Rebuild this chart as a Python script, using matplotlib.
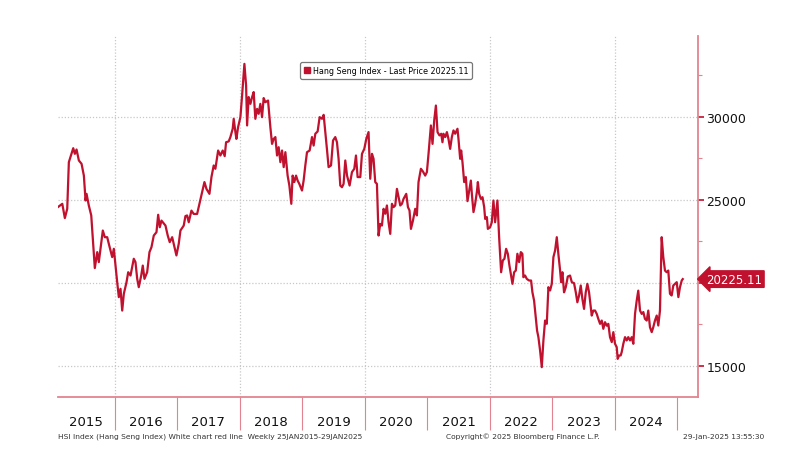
import numpy as np
import matplotlib
matplotlib.use("Agg")
import matplotlib.pyplot as plt
from matplotlib.patches import Patch
from matplotlib.ticker import FixedLocator, NullFormatter

# weekly Hang Seng closes (decimal year, index level)
years = [
    2015.094, 2015.165, 2015.206, 2015.244, 2015.270, 2015.340, 2015.366, 2015.393, 2015.430, 2015.473,
    2015.510, 2015.537, 2015.553, 2015.589, 2015.628, 2015.660, 2015.685, 2015.724, 2015.749, 2015.776,
    2015.813, 2015.845, 2015.883, 2015.909, 2015.963, 2015.989, 2016.016, 2016.043, 2016.069, 2016.096,
    2016.123, 2016.149, 2016.192, 2016.219, 2016.256, 2016.308, 2016.335, 2016.363, 2016.388, 2016.427,
    2016.452, 2016.479, 2016.522, 2016.559, 2016.591, 2016.628, 2016.671, 2016.698, 2016.724, 2016.751,
    2016.815, 2016.851, 2016.883, 2016.922, 2016.990, 2017.027, 2017.054, 2017.107, 2017.134, 2017.161,
    2017.187, 2017.230, 2017.267, 2017.321, 2017.358, 2017.390, 2017.438, 2017.470, 2017.518, 2017.550,
    2017.586, 2017.613, 2017.657, 2017.693, 2017.730, 2017.762, 2017.784, 2017.826, 2017.853, 2017.890,
    2017.906, 2017.933, 2017.949, 2017.976, 2018.013, 2018.040, 2018.077, 2018.104, 2018.120, 2018.145,
    2018.173, 2018.200, 2018.225, 2018.252, 2018.280, 2018.305, 2018.332, 2018.359, 2018.385, 2018.412,
    2018.455, 2018.492, 2018.519, 2018.545, 2018.572, 2018.599, 2018.625, 2018.652, 2018.679, 2018.705,
    2018.732, 2018.768, 2018.796, 2018.827, 2018.848, 2018.875, 2018.903, 2018.928, 2018.955, 2018.998,
    2019.024, 2019.051, 2019.078, 2019.120, 2019.158, 2019.184, 2019.211, 2019.248, 2019.280, 2019.318,
    2019.344, 2019.371, 2019.399, 2019.423, 2019.462, 2019.494, 2019.530, 2019.557, 2019.583, 2019.610,
    2019.637, 2019.663, 2019.690, 2019.718, 2019.759, 2019.797, 2019.834, 2019.861, 2019.887, 2019.930,
    2019.957, 2019.994, 2020.026, 2020.062, 2020.089, 2020.117, 2020.142, 2020.169, 2020.196, 2020.222,
    2020.249, 2020.276, 2020.302, 2020.329, 2020.356, 2020.382, 2020.409, 2020.436, 2020.462, 2020.489,
    2020.516, 2020.542, 2020.569, 2020.596, 2020.622, 2020.665, 2020.692, 2020.717, 2020.740, 2020.772,
    2020.808, 2020.835, 2020.861, 2020.899, 2020.931, 2020.968, 2020.995, 2021.021, 2021.059, 2021.085,
    2021.112, 2021.139, 2021.165, 2021.196, 2021.224, 2021.244, 2021.260, 2021.288, 2021.315, 2021.340,
    2021.367, 2021.394, 2021.420, 2021.447, 2021.484, 2021.500, 2021.527, 2021.543, 2021.564, 2021.591,
    2021.618, 2021.644, 2021.671, 2021.698, 2021.714, 2021.740, 2021.767, 2021.794, 2021.810, 2021.831,
    2021.858, 2021.884, 2021.911, 2021.927, 2021.954, 2021.970, 2022.006, 2022.033, 2022.059, 2022.086,
    2022.123, 2022.150, 2022.182, 2022.209, 2022.235, 2022.262, 2022.289, 2022.315, 2022.342, 2022.363,
    2022.390, 2022.417, 2022.442, 2022.470, 2022.497, 2022.522, 2022.538, 2022.565, 2022.592, 2022.629,
    2022.661, 2022.682, 2022.709, 2022.741, 2022.757, 2022.778, 2022.805, 2022.832, 2022.858, 2022.885,
    2022.912, 2022.938, 2022.965, 2022.992, 2023.018, 2023.045, 2023.072, 2023.097, 2023.125, 2023.141,
    2023.162, 2023.188, 2023.216, 2023.248, 2023.284, 2023.312, 2023.348, 2023.376, 2023.401, 2023.428,
    2023.455, 2023.481, 2023.508, 2023.535, 2023.561, 2023.588, 2023.631, 2023.656, 2023.684, 2023.711,
    2023.736, 2023.764, 2023.791, 2023.816, 2023.843, 2023.871, 2023.896, 2023.923, 2023.951, 2023.976,
    2024.003, 2024.030, 2024.046, 2024.067, 2024.094, 2024.110, 2024.136, 2024.163, 2024.190, 2024.215,
    2024.243, 2024.270, 2024.296, 2024.323, 2024.350, 2024.375, 2024.403, 2024.430, 2024.456, 2024.482,
    2024.510, 2024.535, 2024.562, 2024.590, 2024.615, 2024.642, 2024.670, 2024.695, 2024.722, 2024.749,
    2024.775, 2024.802, 2024.829, 2024.855, 2024.882, 2024.909, 2024.935, 2024.962, 2024.990, 2025.016,
    2025.042, 2025.070, 2025.086,
]
prices = [
    24560, 24760, 23900, 24460, 27270, 28110, 27770, 28030, 27370, 27170,
    26460, 24960, 25360, 24660, 24060, 22250, 20890, 21850, 21250, 22050,
    23150, 22750, 22750, 22350, 21550, 22050, 21040, 20040, 19140, 19640,
    18330, 19340, 20040, 20640, 20440, 21450, 21250, 20240, 19740, 20440,
    21040, 20240, 20640, 21850, 22150, 22850, 23050, 24100, 23350, 23750,
    23450, 22850, 22450, 22750, 21650, 22350, 23150, 23450, 24020, 24060,
    23650, 24350, 24150, 24150, 24760, 25260, 26070, 25660, 25360, 26370,
    27070, 26870, 27970, 27670, 27970, 27630, 28470, 28520, 28780, 29280,
    29880, 29080, 28670, 29380, 29980, 31280, 33190, 31890, 29480, 31190,
    30780, 31190, 31490, 29880, 30480, 30180, 30780, 29980, 31130, 30880,
    30980, 29380, 28370, 28670, 28780, 27670, 28170, 27270, 27970, 26970,
    27870, 26460, 25860, 24760, 26460, 26070, 26460, 26160, 25960, 25560,
    26160, 27070, 27870, 27970, 28780, 28270, 28980, 29120, 29980, 29880,
    30120, 29080, 27970, 26970, 27070, 28570, 28780, 28470, 27470, 25860,
    25760, 25960, 27370, 26460, 25860, 26670, 26870, 27670, 26370, 26370,
    27770, 28070, 28670, 29080, 26270, 27770, 27470, 26070, 25960, 22850,
    23550, 23450, 24460, 24160, 24660, 23650, 22950, 24760, 24560, 24660,
    25660, 25160, 24660, 24760, 25060, 25360, 24560, 24360, 23250, 23750,
    24460, 24060, 26070, 26870, 26710, 26460, 26670, 27770, 29480, 28370,
    29780, 30680, 29080, 28880, 28980, 28470, 28980, 28780, 29080, 28670,
    28070, 28780, 29180, 28980, 29280, 28670, 27470, 27970, 27270, 26070,
    26370, 24920, 25560, 26160, 25360, 24260, 24760, 25470, 26070, 25360,
    25060, 25160, 24560, 23850, 23960, 23250, 23350, 23650, 24960, 23650,
    24960, 22750, 20640, 21350, 21450, 22050, 21750, 21040, 20440, 19940,
    20640, 20740, 21750, 21250, 21850, 21750, 20340, 20440, 20240, 20140,
    20140, 19440, 18930, 17730, 17120, 16730, 15920, 14920, 16530, 17730,
    17530, 19740, 19540, 19940, 21550, 21950, 22750, 21750, 20740, 20040,
    20640, 19430, 19740, 20380, 20440, 20040, 19980, 19430, 18830, 19230,
    19840, 19040, 18430, 19430, 19940, 19430, 18030, 18330, 18330, 18130,
    17830, 17530, 17730, 17230, 17630, 17420, 17530, 16730, 16430, 17030,
    16330, 16130, 15420, 15620, 15630, 15830, 16330, 16730, 16530, 16730,
    16530, 16730, 16330, 18130, 18930, 19530, 18330, 18130, 18240, 17830,
    17730, 18330, 17330, 17030, 17330, 17730, 18030, 17430, 18330, 22750,
    21550, 20740, 20640, 20740, 19340, 19240, 19840, 19940, 20040, 19140,
    19740, 20140, 20225.11,
]
year_labels = ["2015", "2016", "2017", "2018", "2019", "2020", "2021", "2022", "2023", "2024"]
y_ticks = [15000, 20000, 25000, 30000]
y_tick_labels = ["15000", "", "25000", "30000"]  # 20000 sits under the price tag
last_price = 20225.11

red = "#c0112e"
pink = "#e2848f"
grid_c = "#c8c8c8"

fig = plt.figure(figsize=(8, 4.6), dpi=100)
ax = fig.add_axes([0.072, 0.135, 0.8005, 0.785])

x0, x1 = 2015.09, 2025.33
ax.set_xlim(x0, x1)
ax.set_ylim(13130, 34880)

# grid
for yv in y_ticks:
    ax.axhline(yv, color=grid_c, lw=0.9, ls=(0, (1, 1.5)), zorder=1)
for xv in [2016, 2018, 2020, 2022, 2024]:
    ax.axvline(xv, color=grid_c, lw=0.9, ls=(0, (1, 1.5)), zorder=1)

ax.plot(years, prices, color=red, lw=1.6, zorder=3, solid_joinstyle="round")

for s in ["left", "top"]:
    ax.spines[s].set_visible(False)
for s in ["right", "bottom"]:
    ax.spines[s].set_color(pink)
    ax.spines[s].set_linewidth(1.3)

# right axis
ax.yaxis.tick_right()
ax.set_yticks(y_ticks)
ax.set_yticklabels(y_tick_labels)
ax.yaxis.set_minor_locator(FixedLocator([17500, 22500, 27500, 32500]))
ax.tick_params(axis="y", which="major", direction="out", length=4, width=1.2,
               color=red, labelsize=9, pad=2, labelcolor="#111111")
ax.tick_params(axis="y", which="minor", direction="out", length=3, width=0.8, color=pink)

# bottom axis: year separators as long ticks, labels in between
ax.set_xticks(np.arange(2016, 2026))
ax.xaxis.set_major_formatter(NullFormatter())
ax.tick_params(axis="x", which="major", direction="out", length=24, width=0.8, color=pink)
mids = [(x0 + 2016) / 2] + [int(l) + 0.5 for l in year_labels[1:]]
ax.xaxis.set_minor_locator(FixedLocator(mids))
ax.set_xticklabels(year_labels, minor=True)
ax.tick_params(axis="x", which="minor", length=0, pad=13, labelsize=9.5, labelcolor="#111111")

# last price tag
ax.annotate(f"{last_price:.2f}", xy=(1.0, last_price), xycoords=("axes fraction", "data"),
            xytext=(6, 0), textcoords="offset points", ha="left", va="center",
            fontsize=8.5, color="white",
            bbox=dict(boxstyle="larrow,pad=0.15", fc=red, ec=red))

# legend
leg = ax.legend(handles=[Patch(color=red)], labels=[f"Hang Seng Index - Last Price {last_price:.2f}"],
                loc="center", bbox_to_anchor=(0.513, 0.904), fontsize=5.8,
                handlelength=0.7, handleheight=0.7, handletextpad=0.4,
                borderpad=0.45, fancybox=True, framealpha=1, edgecolor="#777777")
leg.get_frame().set_linewidth(0.9)

# footer
fig.text(0.073, 0.05, "HSI Index (Hang Seng Index) White chart red line  Weekly 25JAN2015-29JAN2025",
         fontsize=5.4, color="#333333", va="center", ha="left")
fig.text(0.558, 0.05, "Copyright\u00a9 2025 Bloomberg Finance L.P.",
         fontsize=5.4, color="#333333", va="center", ha="left")
fig.text(0.955, 0.05, "29-Jan-2025 13:55:30",
         fontsize=5.4, color="#333333", va="center", ha="right")

fig.savefig("out.png", dpi=100, facecolor="white")
